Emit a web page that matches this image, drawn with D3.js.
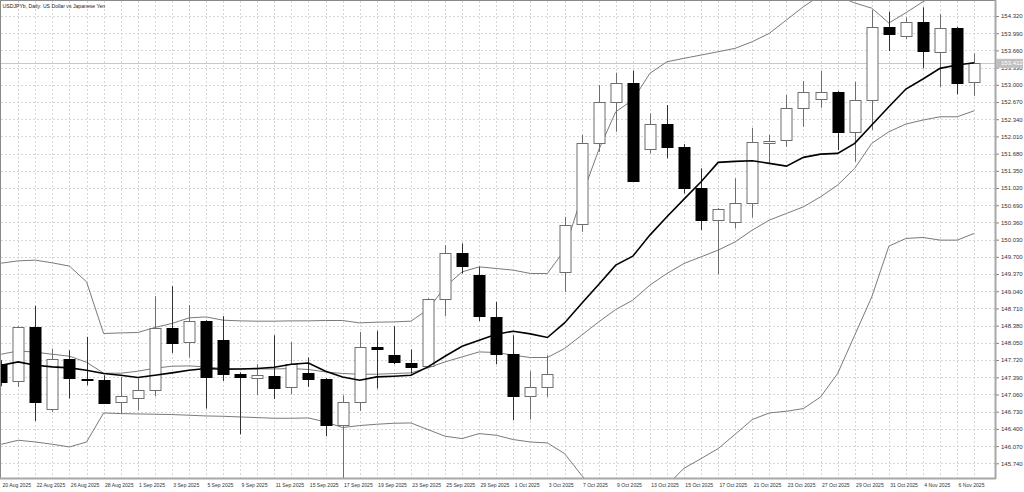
<!DOCTYPE html>
<html>
<head>
<meta charset="utf-8">
<script src="https://cdn.jsdelivr.net/npm/d3@7"></script>
<style>
  html, body { margin: 0; padding: 0; background: #fff; }
  #vis { width: 1024px; height: 492px; }
  text { font-family: "Liberation Sans", Arial, sans-serif; }
</style>
</head>
<body>
<div id="vis"></div>
<script>
// USDJPYb daily bars, 20 Aug - 7 Nov 2025
var dates = ["2025-08-20","2025-08-21","2025-08-22","2025-08-25","2025-08-26","2025-08-27","2025-08-28","2025-08-29",
  "2025-09-01","2025-09-02","2025-09-03","2025-09-04","2025-09-05","2025-09-08","2025-09-09","2025-09-10","2025-09-11","2025-09-12",
  "2025-09-15","2025-09-16","2025-09-17","2025-09-18","2025-09-19","2025-09-22","2025-09-23","2025-09-24","2025-09-25","2025-09-26",
  "2025-09-29","2025-09-30","2025-10-01","2025-10-02","2025-10-03","2025-10-06","2025-10-07","2025-10-08","2025-10-09","2025-10-10",
  "2025-10-13","2025-10-14","2025-10-15","2025-10-16","2025-10-17","2025-10-20","2025-10-21","2025-10-22","2025-10-23","2025-10-24",
  "2025-10-27","2025-10-28","2025-10-29","2025-10-30","2025-10-31","2025-11-03","2025-11-04","2025-11-05","2025-11-06","2025-11-07"];

var open = [147.640,147.301,148.345,146.790,147.737,147.353,147.347,146.905,146.994,147.141,148.337,148.057,148.466,148.101,147.449,
  147.385,147.416,147.193,147.468,147.353,146.470,146.917,147.973,147.813,147.673,147.589,148.882,149.765,149.349,148.548,147.833,
  147.032,147.205,149.401,150.322,151.877,152.664,153.028,151.767,152.241,151.800,151.013,150.405,150.353,150.725,151.896,151.927,
  152.548,152.721,152.856,152.088,152.708,154.103,153.936,154.199,153.635,154.095,153.040];
var high = [147.717,148.370,148.760,147.942,147.909,148.165,147.429,147.397,147.372,148.946,149.138,148.773,148.485,148.562,147.487,
  147.640,148.197,148.069,147.769,147.372,147.045,148.260,148.280,148.370,147.923,148.907,149.925,149.957,149.508,148.836,148.197,
  147.506,147.813,150.468,152.036,152.996,153.232,153.270,152.452,152.612,151.863,151.397,150.635,151.205,152.176,152.036,152.804,
  153.072,153.264,152.880,153.059,154.435,154.403,154.295,154.487,154.353,154.110,153.604];
var low = [147.218,147.205,146.552,146.725,146.982,147.237,146.892,146.694,146.758,147.026,147.857,147.769,146.790,147.320,146.297,
  147.045,146.974,147.065,147.205,146.259,145.447,146.744,147.174,147.640,147.462,147.564,148.562,149.381,148.466,147.640,146.566,
  146.579,147.013,149.028,150.180,151.715,152.099,151.134,151.685,151.589,150.917,150.213,149.362,150.245,150.456,151.493,151.811,
  152.195,152.560,151.748,151.523,152.132,153.648,153.873,153.316,152.952,152.817,152.790];
var close = [147.301,148.345,146.905,147.750,147.366,147.341,146.898,147.026,147.141,148.337,148.057,148.466,147.397,147.449,147.391,
  147.435,147.186,147.640,147.358,146.470,146.917,147.973,147.942,147.685,147.589,148.882,149.765,149.508,148.562,147.833,147.032,
  147.205,147.462,150.309,151.877,152.664,153.028,151.140,152.241,151.800,151.013,150.405,150.610,150.725,151.896,151.927,152.548,
  152.856,152.856,152.088,152.708,154.103,153.975,154.199,153.635,154.095,153.040,153.412];

// moving average (thick black)
var maLine = [147.621,147.685,147.621,147.589,147.570,147.525,147.462,147.429,147.385,147.429,147.474,147.525,147.558,147.545,147.550,
  147.558,147.583,147.640,147.665,147.506,147.397,147.333,147.397,147.410,147.429,147.589,147.794,147.986,148.101,148.216,148.274,
  148.222,148.153,148.433,148.806,149.170,149.541,149.713,150.117,150.468,150.808,151.140,151.512,151.531,151.543,151.493,151.441,
  151.608,151.671,151.685,151.877,152.228,152.579,152.919,153.111,153.316,153.380,153.424];
// bollinger bands (thin grey)
var bbMid = [147.832,147.896,147.871,147.832,147.794,147.679,147.468,147.468,147.506,147.564,147.602,147.608,147.589,147.558,147.550,
  147.550,147.550,147.558,147.539,147.493,147.462,147.449,147.449,147.462,147.474,147.570,147.685,147.781,147.877,147.865,147.813,
  147.769,147.769,147.942,148.197,148.452,148.690,148.869,149.157,149.381,149.573,149.700,149.829,149.988,150.213,150.405,150.533,
  150.660,150.852,151.076,151.397,151.877,152.099,152.247,152.324,152.387,152.387,152.502];
var bbUpper = [149.579,149.623,149.637,149.585,149.522,149.220,148.230,148.241,148.249,148.345,148.422,148.529,148.548,148.485,148.472,
  148.466,148.466,148.472,148.472,148.479,148.479,148.433,148.447,148.452,148.466,148.690,149.124,149.412,149.508,149.477,149.445,
  149.381,149.381,149.829,150.852,151.748,152.483,152.708,153.220,153.443,153.508,153.571,153.635,153.700,153.827,153.988,154.243,
  154.499,154.723,154.704,154.570,154.470,154.186,154.383,154.595,154.762,154.762,154.857];
var bbLower = [146.105,146.182,146.149,146.105,146.053,146.149,146.706,146.694,146.687,146.681,146.675,146.662,146.648,146.642,146.629,
  146.617,146.604,146.604,146.610,146.533,146.426,146.464,146.489,146.508,146.514,146.387,146.259,146.214,146.310,146.278,146.195,
  146.149,146.130,145.927,145.510,145.157,144.898,145.030,145.094,145.320,145.644,145.830,146.022,146.297,146.579,146.706,146.738,
  146.790,147.013,147.462,148.197,148.932,149.905,150.053,150.072,150.021,150.021,150.149];

var priceTicks = [154.320,153.990,153.660,153.330,153.000,152.670,152.340,152.010,151.680,151.350,151.020,150.690,150.360,150.030,
  149.700,149.370,149.040,148.710,148.380,148.050,147.720,147.390,147.060,146.730,146.400,146.070,145.740];

var W = 1024, H = 492;
var plotRight = 995, plotBottom = 478;

var svg = d3.select("#vis").append("svg")
    .attr("width", W)
    .attr("height", H);

var parse = d3.timeParse("%Y-%m-%d");
var fmtDate = d3.timeFormat("%-d %b %Y");

var x = d3.scalePoint()
    .domain(dates)
    .range([1.2, 974.2]);

var y = d3.scaleLinear()
    .domain([145.74, 154.32])
    .range([463.3, 16]);

svg.append("defs").append("clipPath").attr("id", "plot")
    .append("rect").attr("x", 1).attr("y", 1).attr("width", plotRight - 1).attr("height", plotBottom - 1);

// grid
var grid = svg.append("g").attr("stroke", "#d6d6d6").attr("stroke-dasharray", "2,2").attr("stroke-width", 1);
grid.selectAll("line.v")
    .data(dates.slice(1))
    .enter().append("line")
    .attr("x1", function (d) { return Math.round(x(d)) + 0.5; })
    .attr("x2", function (d) { return Math.round(x(d)) + 0.5; })
    .attr("y1", 1).attr("y2", plotBottom);
grid.selectAll("line.h")
    .data(priceTicks)
    .enter().append("line")
    .attr("x1", 1).attr("x2", plotRight)
    .attr("y1", function (d) { return Math.round(y(d)) + 0.5; })
    .attr("y2", function (d) { return Math.round(y(d)) + 0.5; });

var plot = svg.append("g").attr("clip-path", "url(#plot)");

// current price line
var last = close[close.length - 1];
plot.append("line")
    .attr("x1", 1).attr("x2", plotRight)
    .attr("y1", Math.round(y(last)) + 0.5).attr("y2", Math.round(y(last)) + 0.5)
    .attr("stroke", "#c8c8c8");

// bollinger lines
function drawLine(values, color, width) {
    var line = d3.line()
        .x(function (d, i) { return x(dates[i]); })
        .y(function (d) { return y(d); });
    plot.append("path")
        .datum(values)
        .attr("d", line)
        .attr("fill", "none")
        .attr("stroke", color)
        .attr("stroke-width", width);
}
drawLine(bbUpper, "#7a7a7a", 1);
drawLine(bbMid, "#7a7a7a", 1);
drawLine(bbLower, "#7a7a7a", 1);

// candles
var bars = dates.map(function (d, i) {
    return { date: d, o: open[i], h: high[i], l: low[i], c: close[i] };
});
var bw = 11;
var candle = plot.selectAll("g.candle")
    .data(bars)
    .enter().append("g");

candle.append("line")
    .attr("x1", function (d) { return Math.round(x(d.date)) + 0.5; })
    .attr("x2", function (d) { return Math.round(x(d.date)) + 0.5; })
    .attr("y1", function (d) { return y(d.h); })
    .attr("y2", function (d) { return y(d.l); })
    .attr("stroke", function (d) { return d.c >= d.o ? "#6e6e6e" : "#303030"; });

candle.append("rect")
    .attr("x", function (d) { return Math.round(x(d.date)) - bw / 2 + 0.5; })
    .attr("y", function (d) { return Math.round(y(Math.max(d.o, d.c))) + 0.5; })
    .attr("width", bw)
    .attr("height", function (d) { return Math.max(1, Math.round(Math.abs(y(d.o) - y(d.c)))); })
    .attr("fill", function (d) { return d.c >= d.o ? "#ffffff" : "#000000"; })
    .attr("stroke", function (d) { return d.c >= d.o ? "#6e6e6e" : "#000000"; });

// moving average on top
drawLine(maLine, "#000000", 1.6);

// frame
svg.append("line").attr("x1", 0.5).attr("x2", 0.5).attr("y1", 0).attr("y2", plotBottom).attr("stroke", "#8a8a8a");
svg.append("line").attr("x1", 0).attr("x2", plotRight).attr("y1", 0.5).attr("y2", 0.5).attr("stroke", "#8a8a8a");

// price axis
var yAxis = svg.append("g")
    .attr("transform", "translate(" + plotRight + ",0)")
    .call(d3.axisRight(y).tickValues(priceTicks).tickSize(4).tickPadding(2).tickFormat(d3.format(".3f")));
yAxis.select("path.domain").remove();
yAxis.selectAll(".tick line").attr("stroke", "#808080");
yAxis.selectAll(".tick text").attr("fill", "#333").attr("font-size", "6px")
    .attr("font-family", "Liberation Sans, Arial, sans-serif");

svg.append("line").attr("x1", plotRight + 0.5).attr("x2", plotRight + 0.5).attr("y1", 0).attr("y2", plotBottom + 1)
    .attr("stroke", "#a8a8a8").attr("stroke-width", 2);

// current price label
var lastY = y(last);
svg.append("rect").attr("x", plotRight + 1).attr("y", lastY - 4.5).attr("width", 27).attr("height", 9).attr("fill", "#c0c0c0");
svg.append("text").attr("x", plotRight + 6).attr("y", lastY + 2).attr("font-size", "6px").attr("fill", "#ffffff")
    .text(d3.format(".3f")(last));

// time axis
var xAxis = svg.append("g")
    .attr("transform", "translate(0," + plotBottom + ")")
    .call(d3.axisBottom(x).tickValues(dates.filter(function (d, i) { return i % 2 === 0; }))
        .tickSize(0).tickPadding(0).tickFormat(function (d) { return fmtDate(parse(d)); }));
xAxis.select("path.domain").remove();
xAxis.selectAll(".tick text").attr("text-anchor", "start").attr("dy", "9px").attr("x", 1)
    .attr("transform", "scale(0.85,1)")
    .attr("fill", "#333").attr("font-size", "6px").attr("font-family", "Liberation Sans, Arial, sans-serif");

svg.append("line").attr("x1", 0).attr("x2", plotRight + 1).attr("y1", plotBottom + 0.5).attr("y2", plotBottom + 0.5)
    .attr("stroke", "#a8a8a8").attr("stroke-width", 2);

// title
svg.append("text").attr("x", 3).attr("y", 8).attr("font-size", "6px").attr("fill", "#222")
    .attr("transform", "scale(0.86,1)")
    .text("USDJPYb, Daily: US Dollar vs Japanese Yen");
</script>
</body>
</html>
